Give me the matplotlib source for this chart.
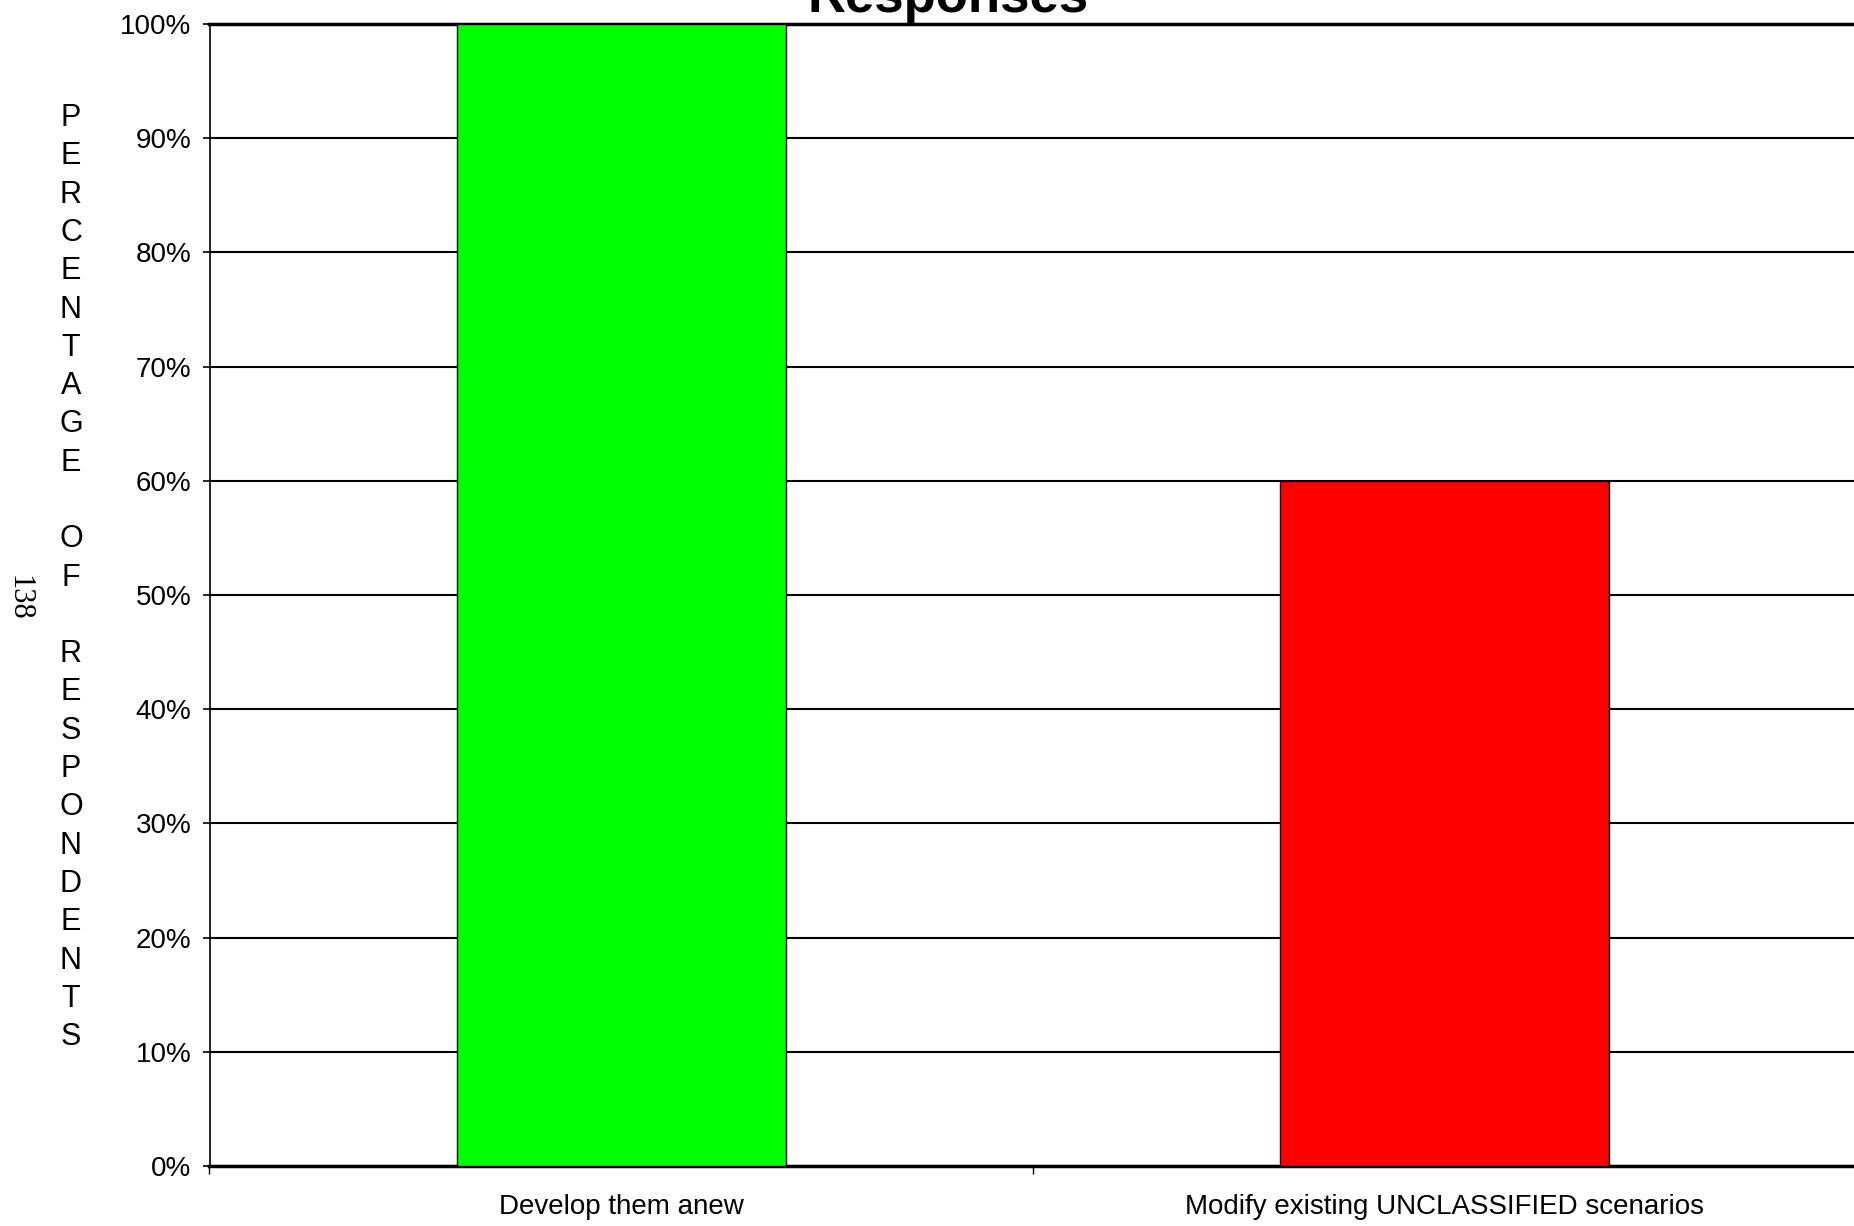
import matplotlib
matplotlib.use("Agg")
import matplotlib.pyplot as plt
from matplotlib.ticker import FixedLocator, PercentFormatter

categories = ["Develop them anew", "Modify existing UNCLASSIFIED scenarios"]
values = [100, 60]
bar_colors = ["#00FF00", "#FF0000"]
yticks = [0, 10, 20, 30, 40, 50, 60, 70, 80, 90, 100]
title = "Responses"
ylabel = "PERCENTAGE OF RESPONDENTS"
page_number = "138"

plt.rcParams['font.family'] = ['Liberation Sans', 'DejaVu Sans']

W, H = 1854, 1226
fig = plt.figure(figsize=(W / 100, H / 100), dpi=100)
ax = fig.add_axes([209.5 / W, 1 - 1166 / H, 1647 / W, (1166 - 24) / H])

x = list(range(len(categories)))
ax.bar(x, values, width=0.4, color=bar_colors, edgecolor="black", linewidth=1.0, zorder=3)

ax.set_xlim(-0.5, 1.5)
ax.set_ylim(0, 100)
ax.set_yticks(yticks)
ax.yaxis.set_major_formatter(PercentFormatter(decimals=0))
ax.yaxis.grid(True, color="black", linewidth=1.5, zorder=0)
ax.set_axisbelow(True)

ax.set_xticks(x)
ax.set_xticklabels(categories, fontsize=20)
ax.xaxis.set_minor_locator(FixedLocator([-0.5, 0.5, 1.5]))
ax.tick_params(axis="x", which="major", length=0, pad=20)
ax.tick_params(axis="x", which="minor", length=6, width=1, color="black")
ax.tick_params(axis="y", which="major", length=5, width=1.2, pad=8, labelsize=20)

ax.spines["right"].set_visible(False)
ax.spines["top"].set_linewidth(2.5)
ax.spines["left"].set_linewidth(1.2)
ax.spines["bottom"].set_linewidth(2.5)

fig.text(948 / W, 1 - 12 / H, title, ha="center", va="baseline",
         fontsize=38, fontweight="bold")

# vertical stacked y-axis label
y0, step = 118, 38.3
for i, ch in enumerate(ylabel):
    if ch != " ":
        fig.text(71 / W, 1 - (y0 + i * step) / H, ch, ha="center", va="center", fontsize=22)

fig.text(19 / W, 1 - 598 / H, page_number, ha="center", va="center", rotation=270,
         fontsize=22, family=["Liberation Serif", "DejaVu Serif"])

fig.savefig("out.png", dpi=100)
